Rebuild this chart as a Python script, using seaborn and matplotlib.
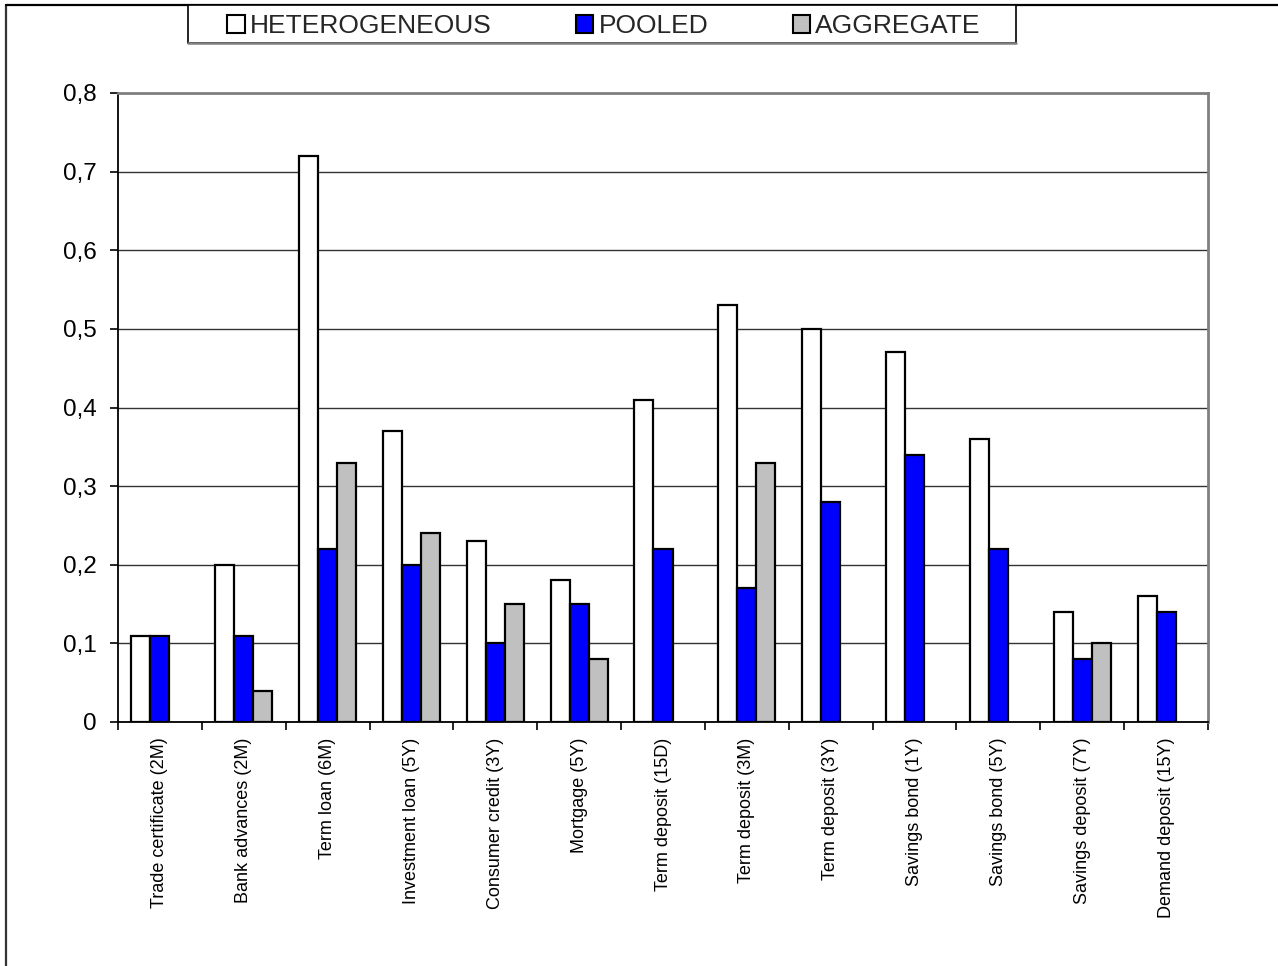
import numpy as np
import pandas as pd
import matplotlib
matplotlib.use("Agg")
import matplotlib.pyplot as plt
from matplotlib.lines import Line2D
from matplotlib.patches import Rectangle
from matplotlib.ticker import FixedLocator, FuncFormatter
import seaborn as sns

categories = [
    "Trade certificate (2M)", "Bank advances (2M)", "Term loan (6M)",
    "Investment loan (5Y)", "Consumer credit (3Y)", "Mortgage (5Y)",
    "Term deposit (15D)", "Term deposit (3M)", "Term deposit (3Y)",
    "Savings bond (1Y)", "Savings bond (5Y)", "Savings deposit (7Y)",
    "Demand deposit (15Y)",
]
heterogeneous = [0.11, 0.20, 0.72, 0.37, 0.23, 0.18, 0.41, 0.53, 0.50, 0.47, 0.36, 0.14, 0.16]
pooled = [0.11, 0.11, 0.22, 0.20, 0.10, 0.15, 0.22, 0.17, 0.28, 0.34, 0.22, 0.08, 0.14]
aggregate = [None, 0.04, 0.33, 0.24, 0.15, 0.08, None, 0.33, None, None, None, 0.10, None]
series_names = ["HETEROGENEOUS", "POOLED", "AGGREGATE"]
series_colors = ["#ffffff", "#0000ff", "#c0c0c0"]
y_ticks = [0, 0.1, 0.2, 0.3, 0.4, 0.5, 0.6, 0.7, 0.8]

rows = []
for name, values in zip(series_names, [heterogeneous, pooled, aggregate]):
    for cat, v in zip(categories, values):
        if v is not None:
            rows.append({"category": cat, "model": name, "value": v})
df = pd.DataFrame(rows)

sns.set_theme(style="white")
plt.rcParams["font.family"] = ["Liberation Sans", "DejaVu Sans"]

W, H = 1278, 966
fig = plt.figure(figsize=(W / 100, H / 100), dpi=100)
ax = fig.add_axes([118 / W, 1 - 722 / H, (1208 - 118) / W, (722 - 93) / H])

sns.barplot(
    data=df, x="category", y="value", hue="model",
    order=categories, hue_order=series_names,
    palette=dict(zip(series_names, series_colors)),
    width=0.68, errorbar=None, edgecolor="black", linewidth=1.6,
    saturation=1, ax=ax, zorder=3,
)

handles, labels = ax.get_legend_handles_labels()
ax.get_legend().remove()

ax.set_xlim(-0.5, len(categories) - 0.5)
ax.set_ylim(0, 0.8)
ax.set_xlabel("")
ax.set_ylabel("")

# y axis: comma decimals, outward ticks
ax.yaxis.set_major_locator(FixedLocator(y_ticks))
ax.yaxis.set_major_formatter(FuncFormatter(
    lambda v, p: "0" if abs(v) < 1e-9 else f"{v:.1f}".replace(".", ",")))
ax.tick_params(axis="y", which="major", left=True, direction="out",
               length=6, width=1.2, color="black", labelsize=17.5, pad=9.5,
               labelcolor="black")
ax.yaxis.grid(True, color="#333333", linewidth=1.0, zorder=0)
ax.set_axisbelow(True)

# x axis: labels at centers, ticks at category boundaries
ax.set_xticks(range(len(categories)))
ax.set_xticklabels(categories, rotation=90, fontsize=13, color="black")
ax.tick_params(axis="x", which="major", length=0, pad=11)
ax.xaxis.set_minor_locator(FixedLocator(np.arange(-0.5, len(categories), 1.0)))
ax.tick_params(axis="x", which="minor", bottom=True, direction="out",
               length=6, width=1.2, color="black")

for side in ["left", "bottom"]:
    ax.spines[side].set_color("black")
    ax.spines[side].set_linewidth(1.3)
for side in ["top", "right"]:
    ax.spines[side].set_color("#808080")
    ax.spines[side].set_linewidth(2.0)

for h in handles:
    h.set_edgecolor("black")
    h.set_linewidth(1.5)

# legend box
bx0, bx1, by0, by1 = 188, 1016, 5, 43
fig.add_artist(Rectangle((bx0 / W, 1 - by1 / H), (bx1 - bx0) / W, (by1 - by0) / H,
                         transform=fig.transFigure, facecolor="white",
                         edgecolor="black", linewidth=1.2, zorder=5))
fig.add_artist(Line2D([bx0 / W, bx1 / W], [1 - by1 / H, 1 - by1 / H],
                      transform=fig.transFigure, color="#808080",
                      linewidth=1.8, zorder=6))

leg = fig.legend(
    handles, labels, loc="center", ncol=3,
    bbox_to_anchor=((bx0 + bx1) / 2 / W + 2 / W, 1 - 26 / H),
    fontsize=19, frameon=False, borderpad=0,
    handlelength=0.65, handleheight=0.65, handletextpad=0.2,
    borderaxespad=0, columnspacing=3.2,
)
leg.set_zorder(7)

# outer chart border (left and top edges)
fig.add_artist(Line2D([6 / W, 6 / W], [0, 1 - 5 / H], transform=fig.transFigure,
                      color="#333333", linewidth=1.6))
fig.add_artist(Line2D([6 / W, 1], [1 - 5 / H, 1 - 5 / H], transform=fig.transFigure,
                      color="black", linewidth=1.6))

fig.savefig("out.png", dpi=100, facecolor="white")
